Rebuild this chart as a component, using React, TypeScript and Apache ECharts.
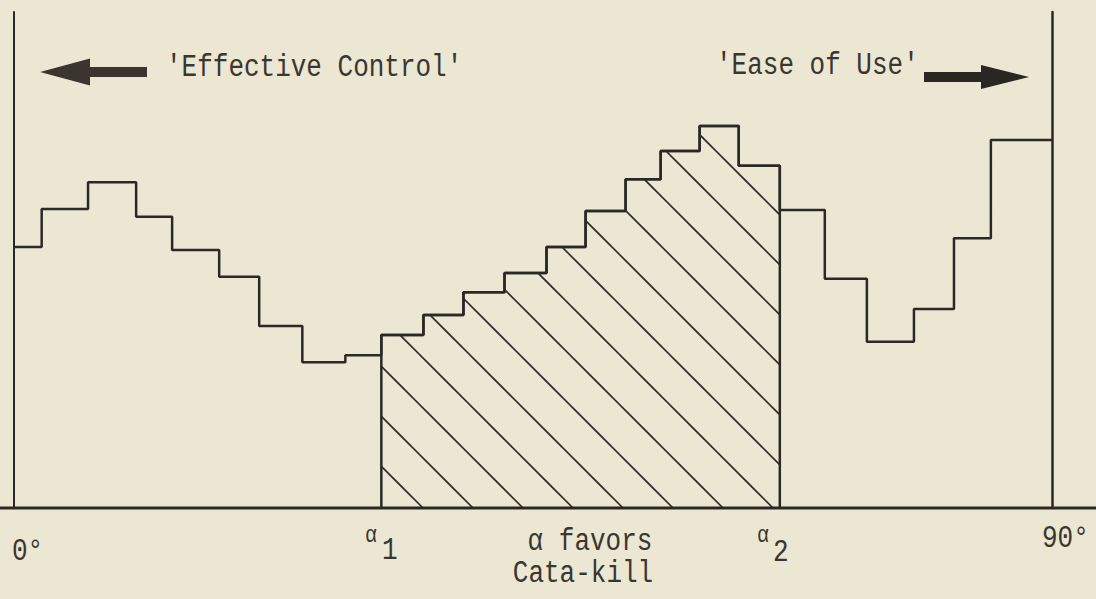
import React, { useEffect, useRef } from "react";
import * as echarts from "echarts";

// Step edges (degrees) and relative heights of each step (0-100 scale)
const binEdges = [0, 2.4, 6.42, 10.59, 13.71, 17.79, 21.26, 25.0, 28.73, 31.85, 35.5, 38.97, 42.53, 46.17, 49.56, 53.03, 56.07, 59.45, 62.84, 66.4, 70.3, 73.95, 78.03, 81.5, 84.7, 90];
const binValues = [52.6, 60.3, 65.7, 58.7, 52.0, 46.6, 36.7, 29.4, 30.8, 34.9, 38.9, 43.5, 47.4, 52.6, 59.9, 66.3, 72.0, 77.0, 69.0, 60.1, 46.2, 33.5, 40.1, 54.4, 74.2];
const alpha1 = 31.85;
const alpha2 = 66.4;
const leftNote = "'Effective Control'";
const rightNote = "'Ease of Use'";
const startLabel = "0°";
const endLabel = "90°";
const midLabel1 = "α favors";
const midLabel2 = "Cata-kill";

const INK = "#2b2925";
const TEXT = "#3a3630";
const BG = "#ece7d2";
const FONT = '"Liberation Mono", "DejaVu Sans Mono", monospace';

function makeHatch(): HTMLCanvasElement {
  const c = document.createElement("canvas");
  c.width = 50;
  c.height = 50;
  const ctx = c.getContext("2d")!;
  ctx.strokeStyle = INK;
  ctx.lineWidth = 1.6;
  for (const off of [-50, 0, 50]) {
    const k = 15 + off;
    ctx.beginPath();
    ctx.moveTo(k - 10, -10);
    ctx.lineTo(k + 60, 60);
    ctx.stroke();
  }
  return c;
}

export default function App() {
  const ref = useRef<HTMLDivElement>(null);
  useEffect(() => {
    document.body.style.margin = "0";
    const chart = echarts.init(ref.current!, null, { renderer: "svg" });

    const stepPoints: number[][] = binValues.map((v, i) => [binEdges[i], v]);
    stepPoints.push([binEdges[binEdges.length - 1], binValues[binValues.length - 1]]);

    const hatchPoints: number[][] = [[alpha1, 0]];
    let lastV = 0;
    binValues.forEach((v, i) => {
      if (binEdges[i] >= alpha1 - 1e-6 && binEdges[i + 1] <= alpha2 + 1e-6) {
        hatchPoints.push([binEdges[i], v]);
        lastV = v;
      }
    });
    hatchPoints.push([alpha2, lastV]);
    hatchPoints.push([alpha2, 0]);

    const txt = (text: string, x: number, y: number, size = 26, align = "left") => ({
      type: "text",
      silent: true,
      x,
      y,
      scaleY: 1.2,
      style: {
        text,
        x: 0,
        y: 0,
        fill: TEXT,
        font: `${size}px ${FONT}`,
        align,
        verticalAlign: "middle",
      },
    });

    chart.setOption({
      animation: false,
      backgroundColor: BG,
      grid: { left: 14, right: 44, top: 12, bottom: 91 },
      xAxis: {
        type: "value",
        min: 0,
        max: 90,
        axisLine: { show: false },
        axisTick: { show: false },
        axisLabel: { show: false },
        splitLine: { show: false },
      },
      yAxis: [
        {
          type: "value",
          min: 0,
          max: 100,
          position: "left",
          axisLine: { show: true, lineStyle: { color: INK, width: 2 } },
          axisTick: { show: false },
          axisLabel: { show: false },
          splitLine: { show: false },
        },
        {
          type: "value",
          min: 0,
          max: 100,
          position: "right",
          axisLine: { show: true, lineStyle: { color: INK, width: 2.5 } },
          axisTick: { show: false },
          axisLabel: { show: false },
          splitLine: { show: false },
        },
      ],
      series: [
        {
          type: "line",
          step: "end",
          data: hatchPoints,
          symbol: "none",
          lineStyle: { color: INK, width: 2.5 },
          areaStyle: { color: { image: makeHatch(), repeat: "repeat" }, opacity: 1 },
          z: 2,
        },
        {
          type: "line",
          step: "end",
          data: stepPoints,
          symbol: "none",
          lineStyle: { color: INK, width: 2.5 },
          z: 3,
        },
      ],
      graphic: [
        {
          type: "line",
          shape: { x1: 0, y1: 508, x2: 1096, y2: 508 },
          style: { stroke: INK, lineWidth: 3 },
          z: 10,
        },
        {
          type: "polygon",
          shape: { points: [[40, 72], [90, 58.5], [90, 67], [147, 67], [147, 77], [90, 77], [90, 85.5]] },
          style: { fill: "#3a362f" },
        },
        {
          type: "polygon",
          shape: { points: [[1029, 77], [981, 65], [981, 72], [924, 72], [924, 82], [981, 82], [981, 89]] },
          style: { fill: "#2a2722" },
        },
        txt(leftNote, 166, 68),
        txt(rightNote, 716, 66),
        txt(startLabel, 12, 552),
        txt("α", 365, 536, 20),
        txt("1", 382, 551),
        txt(midLabel1, 590, 542, 26, "center"),
        txt(midLabel2, 583, 574, 26, "center"),
        txt("α", 757, 536, 20),
        txt("2", 773, 553),
        txt(endLabel, 1042, 539),
      ],
    });
    return () => chart.dispose();
  }, []);
  return <div ref={ref} style={{ width: 1096, height: 599 }} />;
}
